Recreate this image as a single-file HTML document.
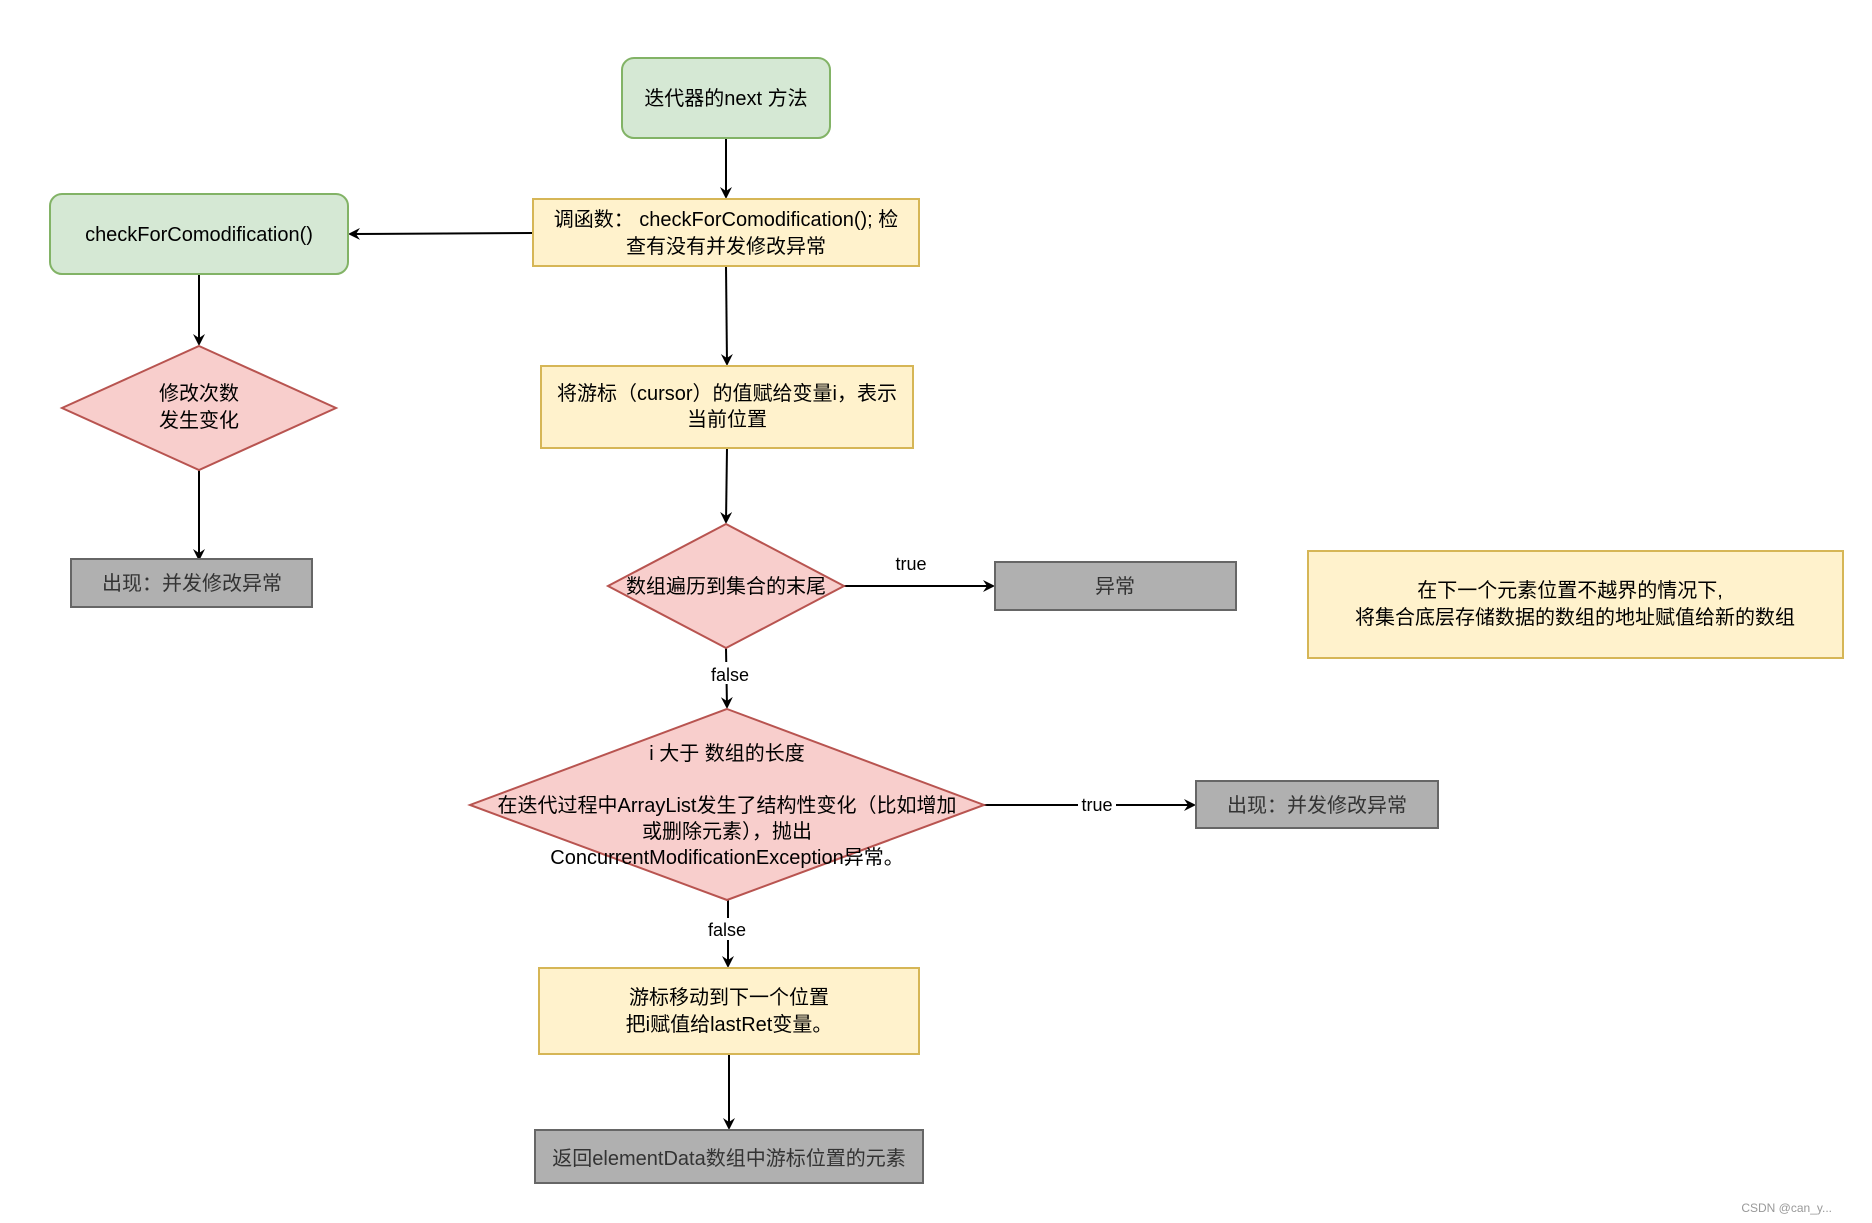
<!DOCTYPE html>
<html><head><meta charset="utf-8"><style>
body{margin:0;background:#fff;}
svg text{font-family:"Liberation Sans","Noto Sans CJK SC",sans-serif;font-size:20px;fill:#000;text-anchor:middle;}
</style></head><body>
<svg width="1872" height="1218" viewBox="0 0 1872 1218" xmlns="http://www.w3.org/2000/svg">
<defs><marker id="a" markerWidth="12" markerHeight="12" refX="10" refY="6" orient="auto" markerUnits="userSpaceOnUse"><path d="M0,0 L12,6 L0,12 L4,6 z" fill="#000"/></marker></defs>
<g stroke="#000" stroke-width="2" fill="none">
<line x1="726" y1="138" x2="726" y2="197" marker-end="url(#a)"/>
<line x1="533" y1="233" x2="350" y2="234" marker-end="url(#a)"/>
<line x1="726" y1="266" x2="727" y2="364" marker-end="url(#a)"/>
<line x1="199" y1="274" x2="199" y2="344" marker-end="url(#a)"/>
<line x1="199" y1="470" x2="199" y2="559" marker-end="url(#a)"/>
<line x1="727" y1="448" x2="726" y2="522" marker-end="url(#a)"/>
<line x1="844" y1="586" x2="993" y2="586" marker-end="url(#a)"/>
<line x1="726" y1="648" x2="727" y2="707" marker-end="url(#a)"/>
<line x1="984" y1="805" x2="1194" y2="805" marker-end="url(#a)"/>
<line x1="728" y1="900" x2="728" y2="966" marker-end="url(#a)"/>
<line x1="729" y1="1054" x2="729" y2="1128" marker-end="url(#a)"/>
</g>
<rect x="622" y="58" width="208" height="80" rx="12" fill="#d5e8d4" stroke="#82b366" stroke-width="2"/>
<text x="726" y="105">迭代器的next 方法</text>
<rect x="50" y="194" width="298" height="80" rx="12" fill="#d5e8d4" stroke="#82b366" stroke-width="2"/>
<text x="199" y="241">checkForComodification()</text>
<rect x="533" y="199" width="386" height="67" fill="#fff2cc" stroke="#d6b656" stroke-width="2"/>
<text x="726" y="226">调函数： checkForComodification(); 检</text>
<text x="726" y="253">查有没有并发修改异常</text>
<polygon points="199,346 336,408 199,470 62,408" fill="#f8cecc" stroke="#b85450" stroke-width="2"/>
<text x="199" y="400">修改次数</text>
<text x="199" y="427">发生变化</text>
<rect x="71" y="559" width="241" height="48" fill="#b0b0b0" stroke="#666" stroke-width="2"/>
<text x="192" y="590" style="fill:#333">出现：并发修改异常</text>
<rect x="541" y="366" width="372" height="82" fill="#fff2cc" stroke="#d6b656" stroke-width="2"/>
<text x="727" y="400">将游标（cursor）的值赋给变量i，表示</text>
<text x="727" y="426">当前位置</text>
<polygon points="726,524 844,586 726,648 608,586" fill="#f8cecc" stroke="#b85450" stroke-width="2"/>
<text x="726" y="593">数组遍历到集合的末尾</text>
<text x="911" y="570" style="font-size:18px">true</text>
<rect x="995" y="562" width="241" height="48" fill="#b0b0b0" stroke="#666" stroke-width="2"/>
<text x="1115" y="593" style="fill:#333">异常</text>
<rect x="1308" y="551" width="535" height="107" fill="#fff2cc" stroke="#d6b656" stroke-width="2"/>
<text x="1570" y="597">在下一个元素位置不越界的情况下,</text>
<text x="1575" y="624">将集合底层存储数据的数组的地址赋值给新的数组</text>
<rect x="708" y="662" width="42" height="22" fill="#fff"/>
<text x="730" y="681" style="font-size:18px">false</text>
<polygon points="727,709 984,805 727,900 470,805" fill="#f8cecc" stroke="#b85450" stroke-width="2"/>
<text x="727" y="760">i  大于 数组的长度</text>
<text x="727" y="812">在迭代过程中ArrayList发生了结构性变化（比如增加</text>
<text x="727" y="838">或删除元素），抛出</text>
<text x="727" y="864">ConcurrentModificationException异常。</text>
<rect x="1078" y="794" width="38" height="22" fill="#fff"/>
<text x="1097" y="811" style="font-size:18px">true</text>
<rect x="1196" y="781" width="242" height="47" fill="#b0b0b0" stroke="#666" stroke-width="2"/>
<text x="1317" y="812" style="fill:#333">出现：并发修改异常</text>
<rect x="706" y="918" width="44" height="22" fill="#fff"/>
<text x="727" y="936" style="font-size:18px">false</text>
<rect x="539" y="968" width="380" height="86" fill="#fff2cc" stroke="#d6b656" stroke-width="2"/>
<text x="729" y="1004">游标移动到下一个位置</text>
<text x="729" y="1031">把i赋值给lastRet变量。</text>
<rect x="535" y="1130" width="388" height="53" fill="#b0b0b0" stroke="#666" stroke-width="2"/>
<text x="729" y="1165" style="fill:#333">返回elementData数组中游标位置的元素</text>
<text x="1832" y="1212" style="font-size:12px;fill:#999;text-anchor:end">CSDN @can_y...</text>
</svg>
</body></html>
